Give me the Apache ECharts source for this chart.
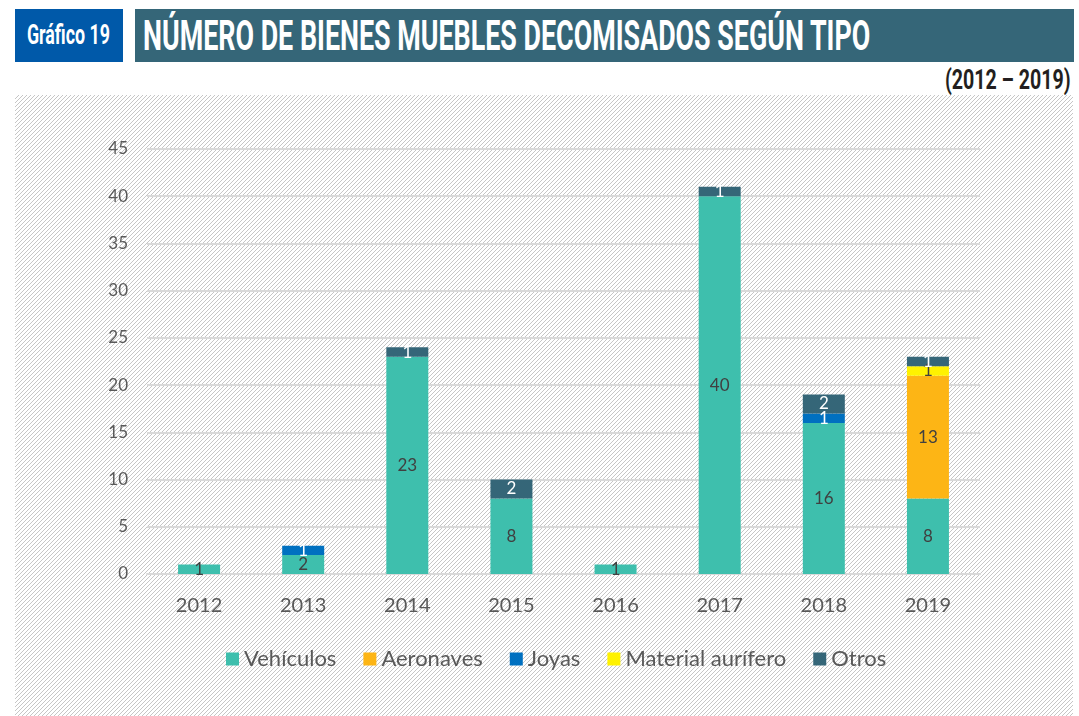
<!DOCTYPE html>
<html>
<head>
<meta charset="utf-8">
<script src="https://cdn.jsdelivr.net/npm/echarts@6/dist/echarts.min.js"></script>
<style>
    body { margin: 0; width: 1079px; height: 716px; background: #fff; position: relative; overflow: hidden; }
    .box { position: absolute; top: 9px; height: 53px; }
    .tag { left: 15px; width: 108px; background: #0059A9; }
    .bar { left: 135px; width: 939px; background: #356678; }
    .txt { position: absolute; font-family: Roboto, "Noto Sans", sans-serif; font-weight: bold; line-height: 1;
        white-space: nowrap; display: inline-block; }
    #tagTxt { left: 27px; top: 22px; font-size: 27px; color: #fff; transform-origin: left top; }
    #titleTxt { left: 143px; top: 15px; font-size: 42px; color: #fff; transform-origin: left top; }
    #periodTxt { right: 8px; top: 66px; font-size: 28px; color: #231f20; transform-origin: right top; }
    .hatch { position: absolute; left: 15px; top: 95px; width: 1058px; height: 621px; }
    #chart { position: absolute; left: 0; top: 0; width: 1079px; height: 716px; }
</style>
</head>
<body>
<div class="box tag"></div>
<div class="box bar"></div>
<span class="txt" id="tagTxt">Gráfico 19</span>
<span class="txt" id="titleTxt">NÚMERO DE BIENES MUEBLES DECOMISADOS SEGÚN TIPO</span>
<span class="txt" id="periodTxt">(2012 – 2019)</span>
<div class="hatch" id="hatch"></div>
<div id="chart"></div>
<script>
// datos
var years = ['2012', '2013', '2014', '2015', '2016', '2017', '2018', '2019'];
var vehiculos = [1, 2, 23, 8, 1, 40, 16, 8];
var aeronaves = ['-', '-', '-', '-', '-', '-', '-', 13];
var joyas = ['-', 1, '-', '-', '-', '-', 1, '-'];
var aurifero = ['-', '-', '-', '-', '-', '-', '-', 1];
var otros = ['-', '-', 1, 2, '-', 1, 2, 1];
var yTicks = [0, 5, 10, 15, 20, 25, 30, 35, 40, 45];

var font = 'Lato, "Open Sans", sans-serif';

// titulos condensados: se ajusta el ancho al del original
function fitWidth(id, w) {
    var el = document.getElementById(id);
    el.style.transform = 'scaleX(' + (w / el.offsetWidth) + ')';
}
fitWidth('tagTxt', 83);
fitWidth('titleTxt', 727);
fitWidth('periodTxt', 126);

// fondo rayado
var tile = document.createElement('canvas');
tile.width = 4; tile.height = 4;
var ctx = tile.getContext('2d');
ctx.fillStyle = '#ffffff';
ctx.fillRect(0, 0, 4, 4);
ctx.fillStyle = '#c6c6c6';
for (var i = 0; i < 4; i++) ctx.fillRect(i, 3 - i, 1, 1);
document.getElementById('hatch').style.backgroundImage = 'url(' + tile.toDataURL() + ')';

function serie(name, data, color, labelColor) {
    return {
        name: name,
        type: 'bar',
        stack: 'total',
        barWidth: 42,
        itemStyle: {color: color},
        label: {
            show: true,
            position: 'inside',
            color: labelColor,
            fontFamily: font,
            fontSize: 17
        },
        data: data
    };
}

var myChart = echarts.init(document.getElementById('chart'), null, {renderer: 'canvas'});
myChart.setOption({
    backgroundColor: 'transparent',
    animation: false,
    grid: {left: 147, right: 99, top: 149, bottom: 142},
    legend: {
        left: 221,
        top: 643,
        itemWidth: 13,
        itemHeight: 13,
        itemGap: 27,
        icon: 'rect',
        textStyle: {color: '#595959', fontFamily: font, fontSize: 22},
        data: ['Vehículos', 'Aeronaves', 'Joyas', 'Material aurífero', 'Otros']
    },
    xAxis: {
        type: 'category',
        data: years,
        axisLine: {lineStyle: {color: '#d9d9d9', width: 2}},
        axisTick: {show: false},
        axisLabel: {color: '#595959', fontFamily: font, fontSize: 20, margin: 22}
    },
    yAxis: {
        type: 'value',
        min: yTicks[0],
        max: yTicks[yTicks.length - 1],
        interval: 5,
        axisLine: {show: false},
        axisTick: {show: false},
        axisLabel: {color: '#595959', fontFamily: font, fontSize: 17, margin: 19},
        splitLine: {lineStyle: {color: '#d9d9d9', width: 2}}
    },
    series: [
        serie('Vehículos', vehiculos, '#3EBFAD', '#404040'),
        serie('Aeronaves', aeronaves, '#FDB515', '#404040'),
        serie('Joyas', joyas, '#0070C0', '#ffffff'),
        serie('Material aurífero', aurifero, '#FFF200', '#404040'),
        serie('Otros', otros, '#356678', '#ffffff')
    ]
});
</script>
</body>
</html>
